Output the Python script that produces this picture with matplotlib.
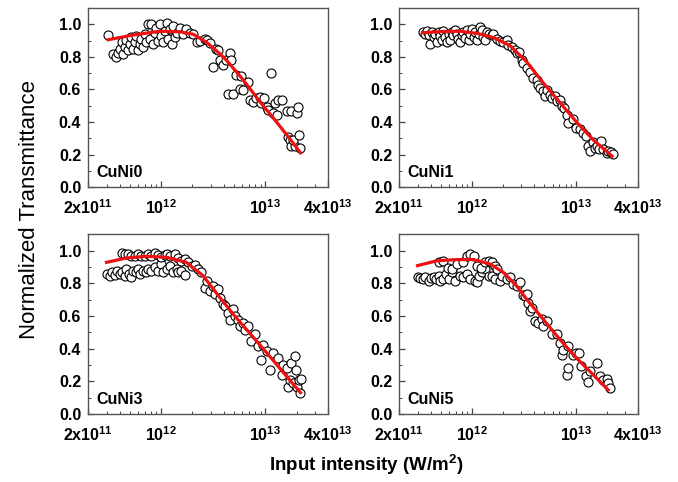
#!/usr/bin/env python3
"""Normalized transmittance vs input intensity for the CuNi samples (2x2 panels)."""

import matplotlib
matplotlib.use("Agg")
import matplotlib.pyplot as plt
from matplotlib.ticker import LogLocator, NullFormatter, MultipleLocator, FormatStrFormatter

plt.rcParams["font.family"] = ["Liberation Sans", "DejaVu Sans"]
plt.rcParams["mathtext.fontset"] = "custom"
plt.rcParams["mathtext.rm"] = "Liberation Sans:bold"
plt.rcParams["mathtext.bf"] = "Liberation Sans:bold"
plt.rcParams["mathtext.default"] = "bf"

# intensities are in units of 1e12 W/m^2
CUNI0_I = [0.311, 0.347, 0.368, 0.388, 0.403, 0.418, 0.433, 0.450, 0.466, 0.484,
           0.502, 0.520, 0.540, 0.560, 0.581, 0.603, 0.625, 0.649, 0.673, 0.698,
           0.724, 0.752, 0.780, 0.809, 0.840, 0.871, 0.904, 0.938, 0.973, 1.01,
           1.05, 1.09, 1.13, 1.17, 1.21, 1.26, 1.31, 1.36, 1.41, 1.51,
           1.63, 1.75, 1.89, 2.03, 2.19, 2.35, 2.63, 2.73, 2.94, 3.16,
           3.35, 3.53, 3.66, 3.94, 4.24, 4.40, 4.56, 4.73, 4.91, 5.28,
           5.69, 5.90, 6.12, 6.84, 7.10, 7.64, 8.22, 8.85, 9.18, 9.66,
           10.3, 10.6, 11.3, 11.9, 12.3, 12.8, 13.3, 14.3, 16.0, 17.8,
           16.6, 17.2, 17.8, 19.2, 18.5, 20.2, 20.6, 21.1, 21.7]
CUNI0_T = [0.933, 0.82, 0.80, 0.825, 0.85, 0.89, 0.82, 0.86, 0.905, 0.84,
           0.88, 0.92, 0.85, 0.89, 0.93, 0.84, 0.88, 0.91, 0.86, 0.94,
           0.89, 1.00, 0.91, 1.00, 0.88, 0.95, 0.98, 0.90, 1.00, 0.93,
           0.89, 0.96, 1.01, 0.91, 0.97, 0.88, 0.99, 0.92, 0.95, 0.98,
           0.94, 0.97, 0.95, 0.94, 0.89, 0.90, 0.91, 0.905, 0.885, 0.74,
           0.85, 0.84, 0.78, 0.75, 0.78, 0.575, 0.825, 0.78, 0.575, 0.69,
           0.605, 0.685, 0.595, 0.645, 0.535, 0.525, 0.545, 0.555, 0.515, 0.545,
           0.495, 0.475, 0.70, 0.455, 0.515, 0.445, 0.535, 0.535, 0.465, 0.465,
           0.31, 0.29, 0.25, 0.25, 0.29, 0.455, 0.495, 0.32, 0.24]
CUNI0_FIT_I = [0.311, 0.540, 0.973, 1.51, 2.03, 2.73, 3.66, 4.24, 6.12, 8.85, 12.8, 18.5, 21.7]
CUNI0_FIT_T = [0.906, 0.935, 0.958, 0.955, 0.94, 0.89, 0.82, 0.78, 0.66, 0.525, 0.40, 0.27, 0.21]

CUNI1_I = [0.335, 0.356, 0.369, 0.383, 0.397, 0.412, 0.428, 0.444, 0.460, 0.478,
           0.495, 0.514, 0.533, 0.553, 0.574, 0.596, 0.618, 0.641, 0.665, 0.690,
           0.716, 0.743, 0.772, 0.801, 0.831, 0.863, 0.895, 0.929, 0.964, 1.00,
           1.04, 1.08, 1.12, 1.16, 1.20, 1.25, 1.29, 1.34, 1.39, 1.45,
           1.56, 1.61, 1.74, 1.87, 2.01, 2.17, 2.25, 2.42, 2.61, 2.70,
           2.87, 3.02, 3.13, 3.38, 3.64, 3.92, 4.22, 4.38, 4.54, 4.89,
           5.07, 5.26, 5.66, 5.87, 6.32, 6.56, 7.06, 7.33, 7.71, 8.18,
           8.49, 9.48, 10.2, 11.0, 11.8, 12.7, 13.2, 13.9, 14.8, 15.3,
           16.1, 16.9, 17.4, 18.5, 19.9, 20.6, 22.2, 23.0]
CUNI1_T = [0.953, 0.943, 0.96, 0.933, 0.882, 0.953, 0.923, 0.943, 0.892, 0.953,
           0.927, 0.903, 0.96, 0.923, 0.892, 0.943, 0.907, 0.953, 0.933, 0.963,
           0.943, 0.912, 0.892, 0.933, 0.953, 0.917, 0.963, 0.903, 0.943, 0.974,
           0.923, 0.953, 0.907, 0.943, 0.984, 0.963, 0.923, 0.903, 0.953, 0.943,
           0.933, 0.943, 0.912, 0.899, 0.892, 0.903, 0.872, 0.862, 0.842, 0.822,
           0.832, 0.781, 0.761, 0.730, 0.710, 0.669, 0.659, 0.629, 0.609, 0.588,
           0.558, 0.598, 0.568, 0.548, 0.558, 0.527, 0.538, 0.497, 0.487, 0.446,
           0.396, 0.416, 0.365, 0.355, 0.335, 0.315, 0.254, 0.223, 0.274, 0.243,
           0.254, 0.233, 0.284, 0.233, 0.209, 0.223, 0.213, 0.203]
CUNI1_FIT_I = [0.335, 0.533, 0.772, 1.12, 1.61, 2.33, 3.38, 4.89, 7.06, 10.2, 14.8, 22.5]
CUNI1_FIT_T = [0.949, 0.957, 0.958, 0.945, 0.92, 0.87, 0.77, 0.64, 0.52, 0.40, 0.29, 0.19]

CUNI3_I = [0.300, 0.323, 0.342, 0.360, 0.379, 0.403, 0.427, 0.450, 0.466, 0.494,
           0.520, 0.540, 0.573, 0.603, 0.635, 0.673, 0.714, 0.752, 0.809, 0.871,
           0.938, 1.01, 1.05, 1.13, 1.21, 1.31, 1.41, 1.46, 1.57, 1.69,
           0.418, 0.450, 0.484, 0.520, 0.560, 0.603, 0.649, 0.698, 0.752, 0.809,
           0.871, 0.938, 1.01, 1.09, 1.13, 1.21, 1.36, 1.46, 1.57, 1.69,
           1.82, 1.96, 2.11, 2.27, 2.44, 2.63, 2.73, 2.94, 3.16, 3.27,
           3.53, 3.66, 3.94, 4.08, 4.40, 4.56, 4.91, 5.09, 5.48, 5.69,
           6.04, 6.35, 6.84, 7.36, 7.93, 8.53, 9.18, 9.53, 10.3, 11.0,
           11.9, 13.3, 14.3, 14.8, 16.0, 16.6, 17.2, 17.8, 18.5, 19.2,
           19.6, 20.2, 21.1, 21.7, 22.2]
CUNI3_T = [0.856, 0.846, 0.867, 0.850, 0.877, 0.856, 0.870, 0.846, 0.887, 0.856,
           0.836, 0.877, 0.867, 0.887, 0.856, 0.877, 0.867, 0.887, 0.877, 0.897,
           0.877, 0.918, 0.867, 0.887, 0.907, 0.867, 0.887, 0.867, 0.877, 0.850,
           0.986, 0.979, 0.979, 0.969, 0.965, 0.979, 0.969, 0.965, 0.979, 0.969,
           0.986, 0.973, 0.959, 0.973, 0.979, 0.965, 0.979, 0.953, 0.938, 0.949,
           0.928, 0.907, 0.911, 0.887, 0.867, 0.774, 0.815, 0.754, 0.784, 0.733,
           0.764, 0.713, 0.671, 0.661, 0.620, 0.575, 0.641, 0.600, 0.575, 0.538,
           0.559, 0.517, 0.538, 0.446, 0.487, 0.415, 0.333, 0.425, 0.384, 0.271,
           0.374, 0.343, 0.240, 0.302, 0.281, 0.168, 0.209, 0.312, 0.189, 0.357,
           0.271, 0.168, 0.209, 0.127, 0.214]
CUNI3_FIT_I = [0.300, 0.466, 0.724, 1.13, 1.75, 2.53, 3.66, 5.09, 9.53, 21.7]
CUNI3_FIT_T = [0.928, 0.955, 0.965, 0.959, 0.928, 0.846, 0.713, 0.600, 0.400, 0.131]

CUNI5_I = [0.300, 0.318, 0.338, 0.356, 0.383, 0.403, 0.428, 0.454, 0.478, 0.495,
           0.533, 0.566, 0.596, 0.641, 0.690, 0.772, 0.831, 0.895, 0.964, 1.08,
           1.12, 1.16, 1.25, 1.34, 1.45, 1.56, 1.67, 1.87,
           0.478, 0.533, 0.583, 0.641, 0.716, 0.831, 0.895, 0.964, 1.04, 1.12,
           1.22, 1.34, 1.45, 1.56, 1.67, 1.76, 1.94, 2.17, 2.33, 2.51,
           2.70, 2.91, 3.09, 3.25, 3.38, 3.51, 3.64, 3.78, 4.06, 4.38,
           4.71, 4.89, 5.26, 5.87, 6.56, 7.06, 7.33, 7.60, 8.18, 8.49,
           8.49, 9.48, 10.2, 10.8, 11.4, 12.7, 13.2, 13.7, 16.1, 17.1,
           18.5, 19.9, 20.6, 21.4]
CUNI5_T = [0.836, 0.830, 0.825, 0.836, 0.815, 0.830, 0.836, 0.825, 0.846, 0.815,
           0.825, 0.856, 0.825, 0.867, 0.815, 0.846, 0.836, 0.856, 0.825, 0.815,
           0.805, 0.846, 0.867, 0.887, 0.846, 0.842, 0.825, 0.815,
           0.932, 0.938, 0.891, 0.887, 0.918, 0.928, 0.969, 0.979, 0.969, 0.907,
           0.891, 0.932, 0.938, 0.928, 0.907, 0.887, 0.846, 0.825, 0.836, 0.795,
           0.784, 0.805, 0.727, 0.723, 0.733, 0.682, 0.630, 0.651, 0.569, 0.559,
           0.579, 0.538, 0.569, 0.487, 0.487, 0.435, 0.363, 0.394, 0.240, 0.281,
           0.415, 0.363, 0.374, 0.374, 0.292, 0.230, 0.199, 0.261, 0.312, 0.230,
           0.209, 0.214, 0.189, 0.158]
CUNI5_FIT_I = [0.300, 0.460, 0.716, 1.04, 1.50, 2.01, 2.70, 3.38, 4.89, 7.06, 10.2, 14.8, 20.6]
CUNI5_FIT_T = [0.908, 0.938, 0.945, 0.945, 0.918, 0.867, 0.784, 0.702, 0.579, 0.456, 0.343, 0.240, 0.148]

PANELS = [
    ("CuNi0", CUNI0_I, CUNI0_T, CUNI0_FIT_I, CUNI0_FIT_T),
    ("CuNi1", CUNI1_I, CUNI1_T, CUNI1_FIT_I, CUNI1_FIT_T),
    ("CuNi3", CUNI3_I, CUNI3_T, CUNI3_FIT_I, CUNI3_FIT_T),
    ("CuNi5", CUNI5_I, CUNI5_T, CUNI5_FIT_I, CUNI5_FIT_T),
]

X_TICKS = [2e11, 1e12, 1e13, 4e13]
X_TICK_LABELS = [r"$2x10^{11}$", r"$10^{12}$", r"$10^{13}$", r"$4x10^{13}$"]

# axes rectangles in figure fractions (left, bottom, width, height)
AXES_RECTS = [
    (0.130, 0.612, 0.354, 0.371),
    (0.589, 0.612, 0.352, 0.371),
    (0.130, 0.141, 0.354, 0.373),
    (0.589, 0.141, 0.352, 0.373),
]

SCALE = 1e12


def draw_panel(ax, name, intensity, trans, fit_i, fit_t):
    ax.plot([v * SCALE for v in intensity], trans, linestyle="none", marker="o",
            markersize=6.5, markerfacecolor="white", markeredgecolor="black",
            markeredgewidth=0.8, zorder=2)
    ax.plot([v * SCALE for v in fit_i], fit_t, color="#ee1111", linewidth=2.3, zorder=3)

    ax.set_xscale("log")
    ax.set_xlim(2e11, 4e13)
    ax.set_ylim(0, 1.1)
    ax.set_xticks(X_TICKS)
    ax.set_xticklabels(X_TICK_LABELS)
    ax.xaxis.set_minor_locator(LogLocator(base=10, subs=range(2, 10), numticks=20))
    ax.xaxis.set_minor_formatter(NullFormatter())
    ax.yaxis.set_major_locator(MultipleLocator(0.2))
    ax.yaxis.set_minor_locator(MultipleLocator(0.1))
    ax.yaxis.set_major_formatter(FormatStrFormatter("%.1f"))

    ax.tick_params(which="both", direction="in", top=False, right=False,
                   color="#444444", labelsize=11.5)
    ax.tick_params(which="major", length=4, width=0.9)
    ax.tick_params(which="minor", length=2.5, width=0.7)
    ax.tick_params(axis="x", which="major", pad=8)
    ax.tick_params(axis="y", which="major", pad=5)
    for label in ax.get_yticklabels():
        label.set_fontweight("bold")
    for spine in ax.spines.values():
        spine.set_color("#555555")
        spine.set_linewidth(1.0)

    ax.text(0.035, 0.08, name, transform=ax.transAxes, fontsize=11.5,
            fontweight="bold", ha="left", va="center")


def main():
    fig = plt.figure(figsize=(6.78, 4.82), dpi=100)
    for rect, (name, i_vals, t_vals, fi, ft) in zip(AXES_RECTS, PANELS):
        ax = fig.add_axes(rect)
        draw_panel(ax, name, i_vals, t_vals, fi, ft)

    fig.text(0.044, 0.565, "Normalized Transmittance", rotation=90,
             ha="center", va="center", fontsize=16)
    fig.text(0.54, 0.035, "Input intensity (W/m$^{\\mathregular{2}}$)",
             ha="center", va="center", fontsize=13.5, fontweight="bold")

    fig.savefig("out.png", dpi=100)
    plt.close(fig)


if __name__ == "__main__":
    main()
